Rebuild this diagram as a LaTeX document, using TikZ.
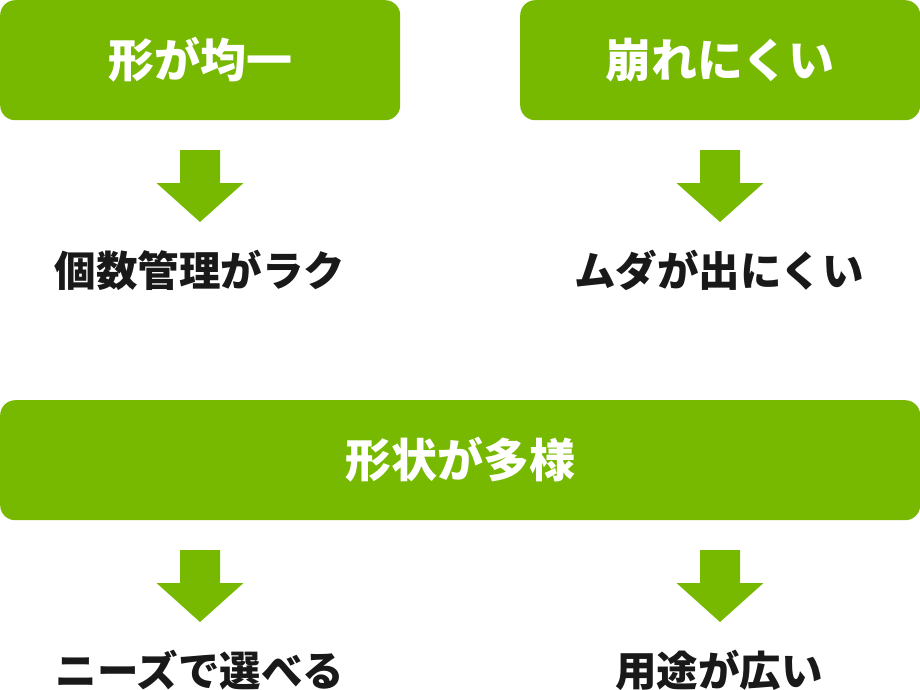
\documentclass[tikz,border=0pt]{standalone}
\usepackage{fontspec}
\usepackage{tikz}
\newfontfamily\jpfont{Noto Sans CJK JP}
\definecolor{leaf}{RGB}{119,185,0}

\tikzset{
  headbox/.style={fill=leaf, rounded corners=15pt, text=white, inner sep=0pt,
    minimum height=120pt, anchor=north west,
    font=\jpfont\bfseries\fontsize{46}{52}\selectfont},
  result/.style={text=black!90, inner sep=0pt,
    font=\jpfont\bfseries\fontsize{41.5}{48}\selectfont},
  downarrow/.pic={\fill[leaf] (-20,0) -- (20,0) -- (20,33) -- (43.5,33)
    -- (0,72) -- (-43.5,33) -- (-20,33) -- cycle;}
}

\begin{document}
\begin{tikzpicture}[x=1pt, y=-1pt]
    	% Boxes, arrows and texts:
    	\useasboundingbox (0,0) rectangle (920,690);
    	\node[headbox, minimum width=400pt] (even) at (0,0) {形が均一};
    	\node[headbox, minimum width=400pt] (firm) at (520,0) {崩れにくい};
    	\node[headbox, minimum width=920pt] (various) at (0,400) {形状が多様};
    	\pic (arrEven) at (200,150) {downarrow};
    	\pic (arrFirm) at (720,150) {downarrow};
    	\pic (arrNeeds) at (200,550) {downarrow};
    	\pic (arrUse) at (720,550) {downarrow};
    	\node[result] (count) at (200,270) {個数管理がラク};
    	\node[result] (waste) at (719,270) {ムダが出にくい};
    	\node[result] (needs) at (200,670) {ニーズで選べる};
    	\node[result] (use) at (719,670) {用途が広い};
    \end{tikzpicture}
\end{document}
